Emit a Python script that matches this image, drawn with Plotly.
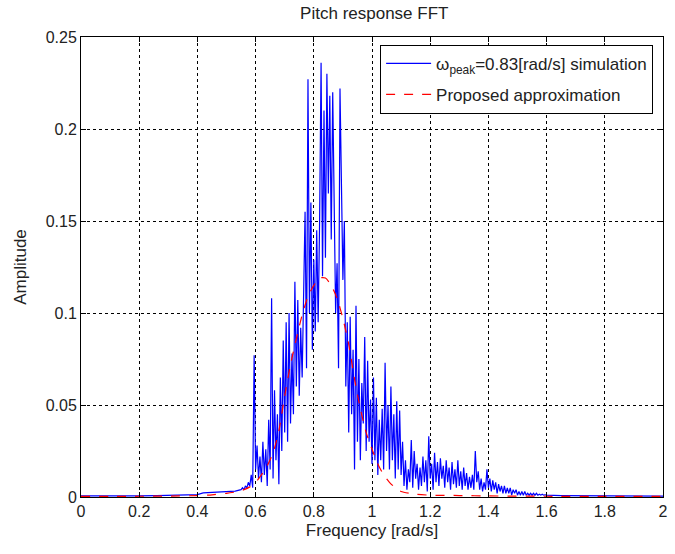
import numpy as np
import plotly.graph_objects as go

# ---------------- data ----------------
# simulation spectrum: sparse low-frequency part
head_freq = [0.0, 0.1, 0.2, 0.26, 0.3, 0.35, 0.4, 0.42, 0.45, 0.5, 0.53]
head_amp = [0.0006, 0.0005, 0.0006, 0.0008, 0.0010, 0.0011, 0.0013, 0.0022, 0.0024, 0.0028, 0.0032]

# dense part: bins from 0.55 to 1.60 rad/s, spacing 0.005
dense_start = 0.55
dense_step = 0.005
dense_amp = [
    0.004, 0.005, 0.004, 0.006, 0.005, 0.008, 0.006, 0.012, 0.005, 0.077,  # 0.550-0.595
    0.015, 0.028, 0.010, 0.022, 0.008, 0.030, 0.012, 0.026, 0.006, 0.042,  # 0.600-0.645
    0.015, 0.108, 0.010, 0.058, 0.020, 0.045, 0.007, 0.065, 0.025, 0.085,  # 0.650-0.695
    0.035, 0.095, 0.030, 0.100, 0.040, 0.078, 0.045, 0.117, 0.060, 0.107,  # 0.700-0.745
    0.055, 0.092, 0.065, 0.123, 0.155, 0.070, 0.227, 0.100, 0.160, 0.080,  # 0.750-0.795
    0.129, 0.090, 0.145, 0.095, 0.150, 0.236, 0.120, 0.210, 0.130, 0.230,  # 0.800-0.845
    0.165, 0.218, 0.140, 0.220, 0.154, 0.100, 0.127, 0.070, 0.222, 0.171,  # 0.850-0.895
    0.118, 0.150, 0.060, 0.095, 0.035, 0.098, 0.045, 0.080, 0.015, 0.104,  # 0.900-0.945
    0.030, 0.075, 0.020, 0.062, 0.040, 0.087, 0.025, 0.074, 0.030, 0.053,  # 0.950-0.995
    0.018, 0.065, 0.020, 0.054, 0.012, 0.042, 0.020, 0.048, 0.015, 0.073,  # 1.000-1.045
    0.025, 0.050, 0.015, 0.060, 0.020, 0.045, 0.010, 0.052, 0.015, 0.047,  # 1.050-1.095
    0.012, 0.030, 0.006, 0.020, 0.004, 0.015, 0.008, 0.031, 0.005, 0.025,  # 1.100-1.145
    0.010, 0.018, 0.004, 0.016, 0.006, 0.022, 0.008, 0.020, 0.003, 0.033,  # 1.150-1.195
    0.010, 0.018, 0.004, 0.024, 0.008, 0.019, 0.006, 0.021, 0.010, 0.017,  # 1.200-1.245
    0.005, 0.020, 0.008, 0.016, 0.004, 0.019, 0.007, 0.015, 0.005, 0.020,  # 1.250-1.295
    0.006, 0.014, 0.004, 0.016, 0.006, 0.013, 0.004, 0.011, 0.005, 0.012,  # 1.300-1.345
    0.004, 0.025, 0.008, 0.014, 0.004, 0.010, 0.003, 0.008, 0.004, 0.015,  # 1.350-1.395
    0.005, 0.010, 0.003, 0.009, 0.004, 0.008, 0.002, 0.007, 0.003, 0.006,  # 1.400-1.445
    0.002, 0.006, 0.002, 0.005, 0.002, 0.005, 0.001, 0.004, 0.002, 0.004,  # 1.450-1.495
    0.001, 0.003, 0.001, 0.003, 0.001, 0.003, 0.001, 0.002, 0.001, 0.002,  # 1.500-1.545
    0.001, 0.002, 0.001, 0.002, 0.001, 0.0015, 0.001, 0.0015, 0.001, 0.0012,  # 1.550-1.595
    0.001,                                                                   # 1.600
]

tail_freq = [1.65, 1.7, 1.8, 1.9, 2.0]
tail_amp = [0.0008, 0.0007, 0.0006, 0.0005, 0.0005]

# proposed approximation
approx_freq = [0.0, 0.1, 0.2, 0.3, 0.4, 0.45, 0.5, 0.54, 0.56, 0.58, 0.60, 0.62, 0.64,
               0.66, 0.68, 0.70, 0.72, 0.74, 0.76, 0.78, 0.80, 0.82, 0.84, 0.86, 0.88,
               0.90, 0.92, 0.94, 0.96, 0.98, 1.00, 1.02, 1.04, 1.06, 1.08, 1.10, 1.15,
               1.2, 1.3, 1.4, 1.6, 1.8, 2.0]
approx_amp = [0.0003, 0.0003, 0.0004, 0.0005, 0.0008, 0.0012, 0.002, 0.003, 0.004, 0.0055,
              0.008, 0.012, 0.017, 0.024, 0.036, 0.055, 0.072, 0.086, 0.099, 0.109, 0.115,
              0.119, 0.119, 0.115, 0.108, 0.097, 0.083, 0.064, 0.048, 0.035, 0.026, 0.018,
              0.012, 0.008, 0.005, 0.003, 0.0015, 0.001, 0.0008, 0.0006, 0.0004, 0.0003,
              0.0003]

x_ticks = [0, 0.2, 0.4, 0.6, 0.8, 1, 1.2, 1.4, 1.6, 1.8, 2]
y_ticks = [0, 0.05, 0.1, 0.15, 0.2, 0.25]

# ---------------- build ----------------
dense_freq = list(np.round(dense_start + dense_step * np.arange(len(dense_amp)), 4))
sim_freq = head_freq + dense_freq + tail_freq
sim_amp = head_amp + dense_amp + tail_amp

FONT = "Liberation Sans, Arial, sans-serif"
TXT = "#222222"

fig = go.Figure()
fig.add_trace(go.Scatter(
    x=sim_freq, y=sim_amp, mode="lines",
    line=dict(color="#0000ff", width=1.2),
    name="ω<sub>peak</sub>=0.83[rad/s] simulation",
    legendgroup="sim",
))
fig.add_trace(go.Scatter(
    x=approx_freq, y=approx_amp, mode="lines",
    line=dict(color="#ff0000", width=1.2, dash="dash", shape="spline", smoothing=0.6),
    name="Proposed approximation",
    legendgroup="approx",
))

axis_common = dict(
    showline=True, linecolor="black", linewidth=1, mirror="ticks",
    ticks="inside", ticklen=5, tickcolor="black",
    showgrid=True, gridcolor="black", gridwidth=1, griddash="dot",
    zeroline=False,
    tickfont=dict(family=FONT, size=16, color=TXT),
)

fig.update_layout(
    width=675, height=554,
    margin=dict(l=81, r=7, t=37, b=57),
    paper_bgcolor="white", plot_bgcolor="white",
    title=dict(text="Pitch response FFT", x=0.5545, xanchor="center", y=0.977, yanchor="middle",
               font=dict(family=FONT, size=17, color=TXT)),
    xaxis=dict(range=[0, 2], tickvals=x_ticks,
               title=dict(text="Frequency [rad/s]", font=dict(family=FONT, size=17, color=TXT), standoff=4),
               **axis_common),
    yaxis=dict(range=[0, 0.25], tickvals=y_ticks,
               title=dict(text="Amplitude", font=dict(family=FONT, size=17, color=TXT), standoff=14),
               **axis_common),
    legend=dict(x=0.983, xanchor="right", y=0.983, yanchor="top",
                bgcolor="white", bordercolor="black", borderwidth=1,
                tracegroupgap=6, itemwidth=45,
                font=dict(family=FONT, size=17, color=TXT)),
    showlegend=True,
)

fig.write_html("out.html")
